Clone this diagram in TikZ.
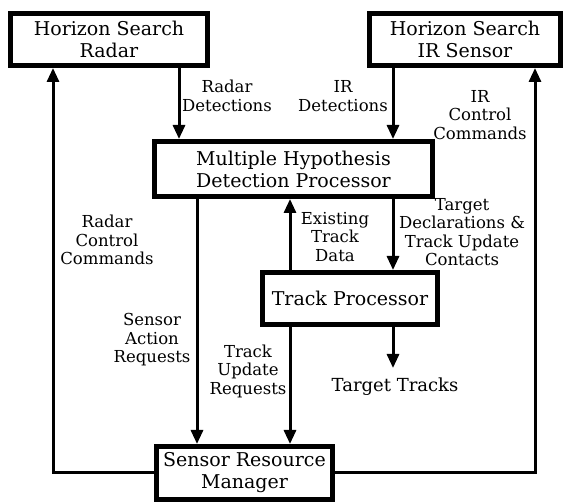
\documentclass[tikz,border=0pt]{standalone}
\usepackage{fontspec}
\setmainfont{DejaVu Serif}
\usetikzlibrary{arrows.meta}
\begin{document}
\begin{tikzpicture}[x=1pt,y=-1pt,
  box/.style={draw, line width=5pt, inner sep=0pt, align=center,
    font=\fontsize{19}{22}\selectfont},
  lbl/.style={inner sep=0pt, align=center, font=\fontsize{16.5}{18.5}\selectfont},
  conn/.style={line width=3pt},
  arr/.style={conn, -{Triangle[length=14pt,width=12pt]}}]
\useasboundingbox (0,0) rectangle (563,502);

% boxes
\node[box, minimum width=197pt, minimum height=52pt] (radar) at (109,39.5) {Horizon Search\\Radar};
\node[box, minimum width=191pt, minimum height=52pt] (ir) at (465,39.5) {Horizon Search\\IR Sensor};
\node[box, minimum width=278pt, minimum height=55pt] (mhdp) at (293.5,169) {Multiple Hypothesis\\Detection Processor};
\node[box, minimum width=175pt, minimum height=52pt] (tp) at (350,298.5) {Track Processor};
\node[box, minimum width=176pt, minimum height=53pt] (srm) at (244.5,473) {Sensor Resource\\Manager};

% x positions of vertical connectors
\coordinate (lx) at (53,0);
\coordinate (rx) at (535,0);
\coordinate (xa) at (179,0);
\coordinate (xb) at (393,0);
\coordinate (xc) at (197,0);
\coordinate (xd) at (290,0);
\coordinate (tt) at (393,368);

% connectors
\draw[arr] (srm.west) -| (radar.south -| lx);
\draw[arr] (srm.east) -| (ir.south -| rx);
\draw[arr] (radar.south -| xa) -- (mhdp.north -| xa);
\draw[arr] (ir.south -| xb) -- (mhdp.north -| xb);
\draw[arr] (mhdp.south -| xc) -- (srm.north -| xc);
\draw[arr] (tp.north -| xd) -- (mhdp.south -| xd);
\draw[arr] (mhdp.south -| xb) -- (tp.north -| xb);
\draw[arr] (tp.south -| xd) -- (srm.north -| xd);
\draw[arr] (tp.south -| xb) -- (tt);

% labels
\node[lbl] (l1) at (227,96) {Radar\\Detections};
\node[lbl] (l2) at (343,96) {IR\\Detections};
\node[lbl] (l3) at (480,115) {IR\\Control\\Commands};
\node[lbl] (l4) at (107,240) {Radar\\Control\\Commands};
\node[lbl] (l5) at (152,340) {Sensor\\Action\\Requests};
\node[lbl] (l6) at (248,371) {Track\\Update\\Requests};
\node[lbl] (l7) at (335,237) {Existing\\Track\\Data};
\node[lbl] (l8) at (462,232) {Target\\Declarations \&\\Track Update\\Contacts};
\node[lbl, font=\fontsize{18}{21}\selectfont] (l9) at (395,387) {Target Tracks};
\end{tikzpicture}
\end{document}
